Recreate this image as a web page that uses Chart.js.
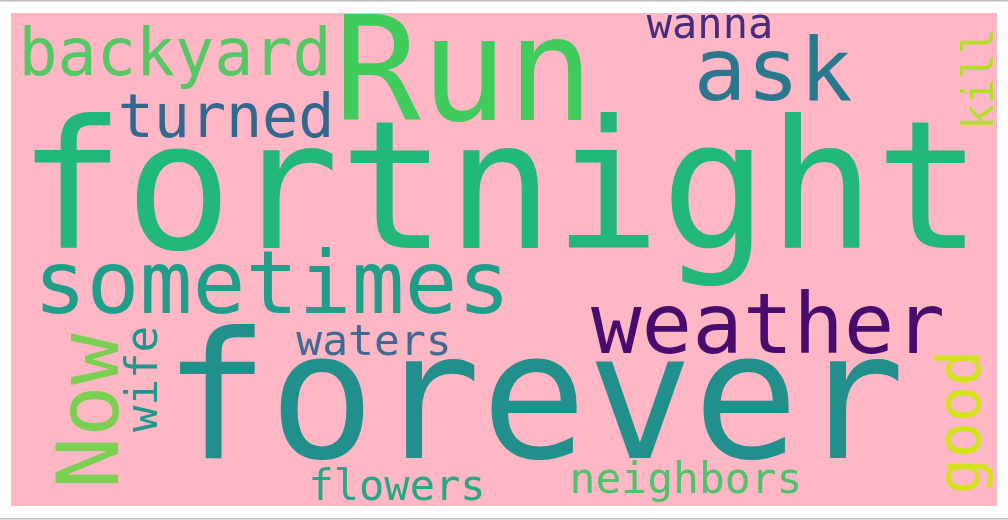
<!DOCTYPE html>
<html>
<head>
<meta charset="utf-8">
<script src="https://cdn.jsdelivr.net/npm/chart.js@4"></script>
<style>
  html, body { margin: 0; padding: 0; background: #fff; }
  #nube { display: block; }
</style>
</head>
<body>
<canvas id="nube" width="1008" height="520"></canvas>
<script>
// palabras y su peso (tamaño de letra)
const palabras = ['fortnight', 'forever', 'Run', 'sometimes', 'ask', 'Now', 'weather', 'backyard',
  'turned', 'good', 'wife', 'waters', 'neighbors', 'wanna', 'flowers', 'kill'];
const pesos = [178, 176, 144, 88, 88, 86, 84, 65, 60, 60, 44, 43, 43, 42, 42, 42];

// posicion de cada palabra (centro en x, linea base en y)
const posX = [500, 534, 464, 272, 773, 118, 768, 175, 226, 980, 157, 374, 686, 710, 397, 993];
const posY = [248, 458, 120, 313, 100, 411, 353, 75, 137, 422, 379, 355, 493, 38, 500, 79];
const giros = [0, 0, 0, 0, 0, -90, 0, 0, 0, -90, -90, 0, 0, 0, 0, -90];

const colores = ['#22b87a', '#21908c', '#40cc5c', '#1f9e89', '#2a788e', '#7ad151', '#470c6c', '#54c865',
  '#31688e', '#d2e21b', '#1f988b', '#3f6b90', '#4ec36b', '#482c7c', '#23a884', '#b5de2b'];

const fondo = '#ffb6c5';

const pluginNube = {
  id: 'nube',
  beforeDatasetsDraw(chart) {
    const ctx = chart.ctx;
    const sx = chart.scales.x, sy = chart.scales.y;
    ctx.save();
    ctx.fillStyle = '#ffffff';
    ctx.fillRect(0, 0, chart.width, chart.height);
    ctx.fillStyle = fondo;
    const x0 = sx.getPixelForValue(11), x1 = sx.getPixelForValue(997);
    const y0 = sy.getPixelForValue(13), y1 = sy.getPixelForValue(506);
    ctx.fillRect(x0, y0, x1 - x0, y1 - y0);
    ctx.fillStyle = '#bdbdbd';
    ctx.fillRect(0, sy.getPixelForValue(0), chart.width, 1.5);
    ctx.fillRect(0, sy.getPixelForValue(518), chart.width, 1.5);
    ctx.restore();
  },
  afterDatasetsDraw(chart) {
    const ctx = chart.ctx;
    const sy = chart.scales.y;
    const meta = chart.getDatasetMeta(0);
    ctx.save();
    ctx.textAlign = 'center';
    ctx.textBaseline = 'alphabetic';
    meta.data.forEach((pt, i) => {
      const tam = Math.abs(sy.getPixelForValue(pesos[i]) - sy.getPixelForValue(0));
      ctx.save();
      ctx.translate(pt.x, pt.y);
      ctx.rotate(giros[i] * Math.PI / 180);
      ctx.font = tam + 'px "DejaVu Sans Mono"';
      ctx.fillStyle = colores[i];
      ctx.fillText(palabras[i], 0, 0);
      ctx.restore();
    });
    ctx.restore();
  }
};

new Chart(document.getElementById('nube'), {
  type: 'scatter',
  data: {
    datasets: [{
      label: 'palabras',
      data: palabras.map((p, i) => ({ x: posX[i], y: posY[i] })),
      pointRadius: 0,
      pointHoverRadius: 0
    }]
  },
  options: {
    responsive: false,
    animation: false,
    devicePixelRatio: 1,
    layout: { padding: 0 },
    plugins: { legend: { display: false }, tooltip: { enabled: false } },
    scales: {
      x: { type: 'linear', min: 0, max: 1008, display: false },
      y: { type: 'linear', min: 0, max: 520, reverse: true, display: false }
    }
  },
  plugins: [pluginNube]
});
</script>
</body>
</html>
